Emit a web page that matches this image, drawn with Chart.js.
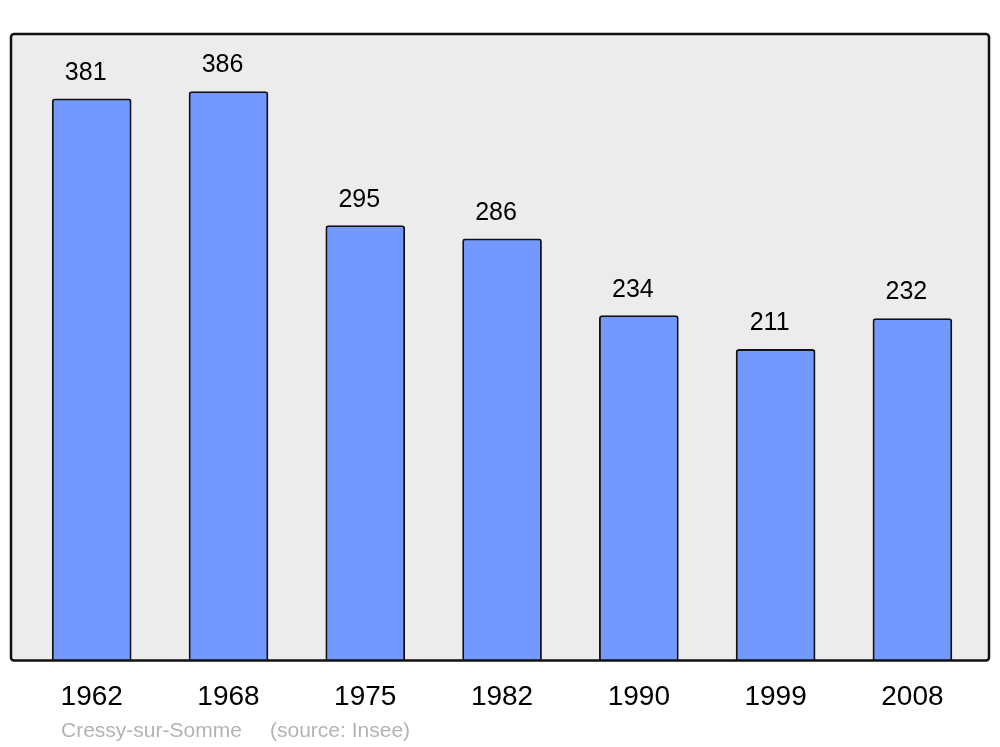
<!DOCTYPE html>
<html>
<head>
<meta charset="utf-8">
<script src="https://cdn.jsdelivr.net/npm/chart.js@4"></script>
<style>
  html, body { margin: 0; padding: 0; background: #fff; }
  #wrap { width: 1000px; height: 747px; }
</style>
</head>
<body>
<div id="wrap"><canvas id="popChart" width="1000" height="747"></canvas></div>
<script>
// données
const years = ["1962", "1968", "1975", "1982", "1990", "1999", "2008"];
const population = [381, 386, 295, 286, 234, 211, 232];
const commune = "Cressy-sur-Somme";
const source = "(source: Insee)";

const FONT = "'Liberation Sans', Arial, sans-serif";

// cadre gris derrière les barres
const framePlugin = {
  id: "frame",
  beforeDatasetsDraw(chart) {
    const { ctx, chartArea: a } = chart;
    ctx.save();
    ctx.beginPath();
    ctx.roundRect(a.left, a.top, a.right - a.left, a.bottom - a.top, 3);
    ctx.fillStyle = "#ececec";
    ctx.fill();
    ctx.restore();
  },
  afterDatasetsDraw(chart) {
    const { ctx, chartArea: a } = chart;
    ctx.save();
    ctx.beginPath();
    ctx.roundRect(a.left, a.top, a.right - a.left, a.bottom - a.top, 3);
    ctx.lineWidth = 2.5;
    ctx.strokeStyle = "#111";
    ctx.stroke();
    ctx.restore();
  },
};

// valeurs au-dessus des barres + pied de page
const labelsPlugin = {
  id: "valueLabels",
  afterDraw(chart) {
    const { ctx } = chart;
    const meta = chart.getDatasetMeta(0);
    ctx.save();
    ctx.font = "25px " + FONT;
    ctx.fillStyle = "#000";
    ctx.textAlign = "center";
    ctx.textBaseline = "alphabetic";
    meta.data.forEach((bar, i) => {
      ctx.fillText(String(population[i]), bar.x - 6, bar.y - 19);
    });
    ctx.font = "21px " + FONT;
    ctx.fillStyle = "#b3b3b3";
    ctx.textAlign = "left";
    ctx.fillText(commune, 61, 737);
    ctx.fillText(source, 270, 737);
    ctx.restore();
  },
};

new Chart(document.getElementById("popChart"), {
  type: "bar",
  data: {
    datasets: [
      {
        data: population.map((v, i) => ({ x: i, y: v })),
        backgroundColor: "#7399ff",
        borderColor: "#111",
        borderWidth: 1.8,
        borderRadius: 3,
        barThickness: 79,
      },
    ],
  },
  options: {
    responsive: false,
    animation: false,
    layout: { padding: { left: 11, right: 11, top: 34, bottom: 21 } },
    plugins: {
      legend: { display: false },
      tooltip: { enabled: false },
    },
    scales: {
      x: {
        type: "linear",
        offset: false,
        min: -0.59,
        max: 6.56,
        grid: { display: false, offset: false },
        border: { display: false },
        afterBuildTicks: (axis) => {
          axis.ticks = years.map((y, i) => ({ value: i }));
        },
        ticks: {
          padding: 12,
          color: "#000",
          font: { family: FONT, size: 28 },
          maxRotation: 0,
          autoSkip: false,
          callback: (v) => years[v],
        },
      },
      y: {
        display: false,
        min: 0,
        max: 425,
      },
    },
  },
  plugins: [framePlugin, labelsPlugin],
});
</script>
</body>
</html>
